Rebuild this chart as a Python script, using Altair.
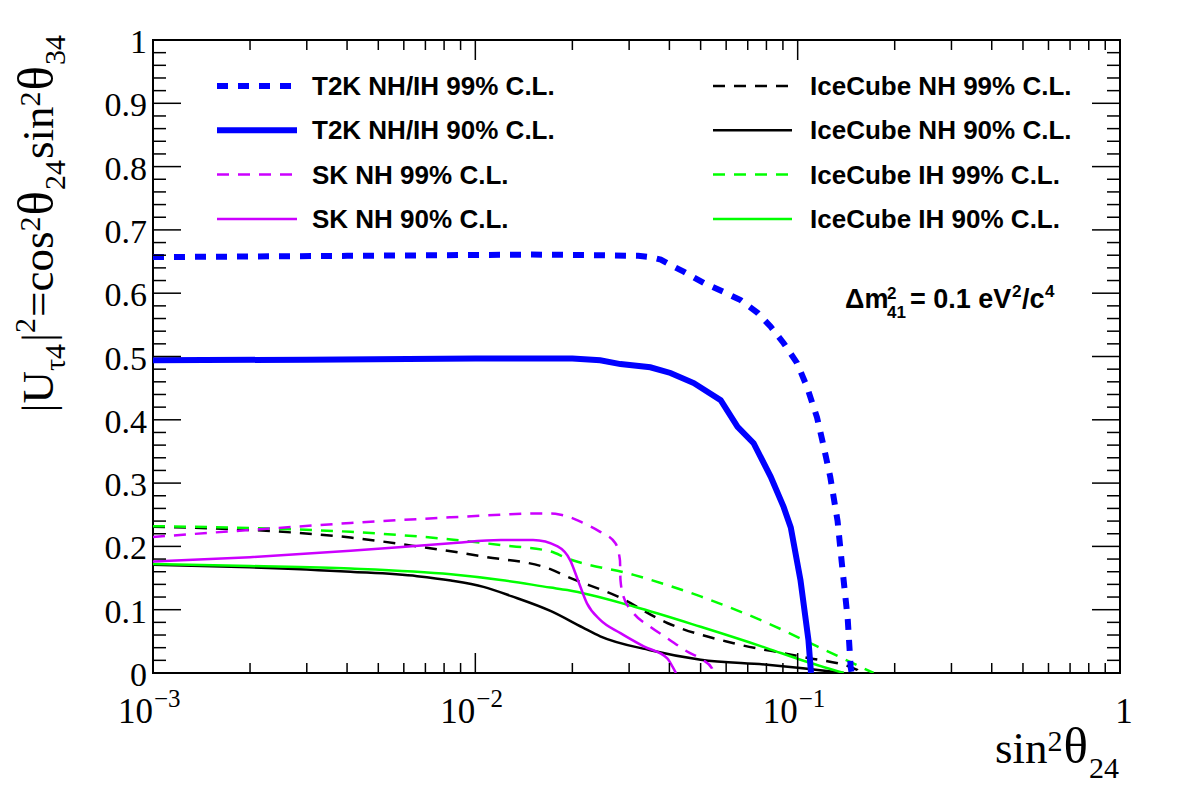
import altair as alt
import pandas as pd

# ---------------- data ----------------
t2k99_x = [0.001, 0.002, 0.004, 0.008, 0.015, 0.025, 0.032, 0.0349, 0.0376, 0.0395, 0.0443, 0.0512,
           0.0589, 0.0665, 0.0751, 0.0825, 0.0905, 0.0995, 0.1069, 0.1148, 0.1198, 0.1262, 0.1330,
           0.1370, 0.1430, 0.1460, 0.1470]
t2k99_y = [0.657, 0.658, 0.659, 0.660, 0.661, 0.660, 0.659, 0.657, 0.653, 0.647, 0.634, 0.616,
           0.602, 0.589, 0.569, 0.547, 0.521, 0.490, 0.452, 0.404, 0.363, 0.310, 0.240,
           0.175, 0.085, 0.010, 0.0]

t2k90_x = [0.001, 0.003, 0.01, 0.02, 0.0244, 0.0282, 0.0349, 0.0403, 0.0476, 0.0577, 0.0651, 0.0730,
           0.0825, 0.0905, 0.0952, 0.102, 0.108, 0.110]
t2k90_y = [0.494, 0.495, 0.497, 0.497, 0.494, 0.488, 0.483, 0.474, 0.458, 0.431, 0.389, 0.363,
           0.310, 0.262, 0.230, 0.147, 0.052, 0.0]

sk99_x = [0.001, 0.002, 0.0041, 0.0084, 0.0120, 0.0151, 0.0171, 0.0184, 0.0197, 0.0212, 0.0244,
          0.0272, 0.0281, 0.0282, 0.0288, 0.0307, 0.0349, 0.0394, 0.0454, 0.0506, 0.0543, 0.0545]
sk99_y = [0.215, 0.226, 0.237, 0.246, 0.250, 0.252, 0.252, 0.250, 0.246, 0.239, 0.223,
          0.205, 0.178, 0.147, 0.121, 0.097, 0.073, 0.055, 0.034, 0.021, 0.007, 0.0]

sk90_x = [0.001, 0.002, 0.0041, 0.0084, 0.012, 0.0151, 0.0180, 0.0197, 0.0208, 0.0222, 0.0244,
          0.0282, 0.0333, 0.0394, 0.0409, 0.0419]
sk90_y = [0.176, 0.183, 0.193, 0.205, 0.210, 0.210, 0.200, 0.178, 0.147, 0.110, 0.084,
          0.063, 0.042, 0.023, 0.010, 0.0]

icnh99_x = [0.001, 0.002, 0.0041, 0.0066, 0.0106, 0.0171, 0.0193, 0.0276, 0.0394, 0.0633, 0.102, 0.153, 0.155]
icnh99_y = [0.231, 0.226, 0.214, 0.200, 0.184, 0.164, 0.152, 0.121, 0.079, 0.047, 0.026, 0.005, 0.0]

icnh90_x = [0.001, 0.002, 0.0041, 0.0066, 0.0084, 0.0106, 0.013, 0.0171, 0.0215, 0.0244, 0.0349, 0.05,
            0.0805, 0.129, 0.139]
icnh90_y = [0.171, 0.167, 0.160, 0.153, 0.146, 0.136, 0.121, 0.098, 0.072, 0.058, 0.036, 0.021,
            0.013, 0.002, 0.0]

icih99_x = [0.001, 0.002, 0.0041, 0.0084, 0.012, 0.0171, 0.0193, 0.031, 0.05, 0.0805, 0.115, 0.172]
icih99_y = [0.232, 0.229, 0.223, 0.211, 0.202, 0.192, 0.181, 0.155, 0.121, 0.079, 0.042, 0.0]

icih90_x = [0.001, 0.002, 0.0041, 0.0084, 0.012, 0.0171, 0.0193, 0.031, 0.05, 0.0805, 0.102, 0.139]
icih90_y = [0.172, 0.169, 0.165, 0.156, 0.147, 0.135, 0.131, 0.105, 0.073, 0.039, 0.021, 0.0]

labels = ["T2K NH/IH 99% C.L.", "T2K NH/IH 90% C.L.", "SK NH 99% C.L.", "SK NH 90% C.L.",
          "IceCube NH 99% C.L.", "IceCube NH 90% C.L.", "IceCube IH 99% C.L.", "IceCube IH 90% C.L."]

y_tick_labels = ["0", "0.1", "0.2", "0.3", "0.4", "0.5", "0.6", "0.7", "0.8", "0.9", "1"]
y_tick_values = [0.0, 0.1, 0.2, 0.3, 0.4, 0.5, 0.6, 0.7, 0.8, 0.9, 1.0]
x_dec_values = [0.001, 0.01, 0.1]
x_dec_exps = ["\u22123", "\u22122", "\u22121"]

# ---------------- layout / style ----------------
W, H = 967, 633
XS = alt.Scale(type="log", domain=[1e-3, 1])
YS = alt.Scale(domain=[0, 1])
SERIF = "Liberation Serif"
SANS = "Liberation Sans"
BLUE, MAG, GREEN, BLACK = "#0000ff", "#cc00ff", "#00ff00", "#000000"

series = [
    # label, xs, ys, color, width, dash, column, row, interpolation
    (labels[4], icnh99_x, icnh99_y, BLACK, 2.5, [12, 9], 1, 0, "monotone"),
    (labels[5], icnh90_x, icnh90_y, BLACK, 2.5, None, 1, 1, "monotone"),
    (labels[6], icih99_x, icih99_y, GREEN, 2.5, [12, 9], 1, 2, "monotone"),
    (labels[7], icih90_x, icih90_y, GREEN, 2.5, None, 1, 3, "monotone"),
    (labels[2], sk99_x, sk99_y, MAG, 2.5, [12, 9], 0, 2, "monotone"),
    (labels[3], sk90_x, sk90_y, MAG, 2.5, None, 0, 3, "monotone"),
    (labels[0], t2k99_x, t2k99_y, BLUE, 6, [11, 10], 0, 0, "linear"),
    (labels[1], t2k90_x, t2k90_y, BLUE, 6, None, 0, 1, "linear"),
]

layers = []

for lab, xs, ys, col, sw, dash, c, r, interp in series:
    df = pd.DataFrame({"x": xs, "y": ys, "i": list(range(len(xs)))})
    kw = dict(color=col, strokeWidth=sw, clip=True, interpolate=interp)
    if dash:
        kw["strokeDash"] = dash
    layers.append(
        alt.Chart(df).mark_line(**kw).encode(
            x=alt.X("x:Q", scale=XS, axis=None),
            y=alt.Y("y:Q", scale=YS, axis=None),
            order=alt.Order("i:Q"),
        )
    )

# ---------------- ticks (inside, on all four sides) ----------------
ymin = [i / 50 for i in range(1, 50) if i % 5]
xmaj = [1e-3, 1e-2, 1e-1, 1.0]
xmin = [m * 10.0 ** e for e in (-3, -2, -1) for m in range(2, 10)]

def xticks(vals, L):
    df = pd.DataFrame({"v": vals})
    base = alt.Chart(df).mark_rule(color="black", strokeWidth=1.5)
    enc = dict(x=alt.X("v:Q", scale=XS, axis=None))
    return [base.encode(y=alt.value(H), y2=alt.value(H - L), **enc),
            base.encode(y=alt.value(0), y2=alt.value(L), **enc)]

def yticks(vals, L):
    df = pd.DataFrame({"v": vals})
    base = alt.Chart(df).mark_rule(color="black", strokeWidth=1.5)
    enc = dict(y=alt.Y("v:Q", scale=YS, axis=None))
    return [base.encode(x=alt.value(0), x2=alt.value(L), **enc),
            base.encode(x=alt.value(W), x2=alt.value(W - L), **enc)]

layers += xticks(xmaj, 20) + xticks(xmin, 10) + yticks(y_tick_values, 28) + yticks(ymin, 13)

# ---------------- tick labels ----------------
ylab_df = pd.DataFrame({"v": y_tick_values, "t": y_tick_labels})
layers.append(
    alt.Chart(ylab_df).mark_text(font=SERIF, fontSize=34, align="right", baseline="alphabetic",
                                 dy=13, color="black").encode(
        x=alt.value(-6), y=alt.Y("v:Q", scale=YS, axis=None), text="t:N")
)
xlab_df = pd.DataFrame({"v": x_dec_values, "e": x_dec_exps, "b": ["10"] * 3})
layers.append(
    alt.Chart(xlab_df).mark_text(font=SERIF, fontSize=35, align="right", baseline="alphabetic",
                                 color="black").encode(
        x=alt.X("v:Q", scale=XS, axis=None), y=alt.value(H + 50), text="b:N")
)
layers.append(
    alt.Chart(xlab_df).mark_text(font=SERIF, fontSize=25, align="left", baseline="alphabetic",
                                 dx=1, color="black").encode(
        x=alt.X("v:Q", scale=XS, axis=None), y=alt.value(H + 34), text="e:N")
)
layers.append(
    alt.Chart(pd.DataFrame({"v": [1.0], "t": ["1"]})).mark_text(
        font=SERIF, fontSize=35, align="center", baseline="alphabetic", dx=4, color="black").encode(
        x=alt.X("v:Q", scale=XS, axis=None), y=alt.value(H + 50), text="t:N")
)

# ---------------- text helper ----------------
def txt(s, x, y, size, font=SERIF, bold=False, angle=0, dx=0, dy=0, align="left"):
    kw = dict(font=font, fontSize=size, align=align, baseline="alphabetic", color="black")
    if bold:
        kw["fontWeight"] = "bold"
    if angle:
        kw["angle"] = angle
    if dx:
        kw["dx"] = dx
    if dy:
        kw["dy"] = dy
    return alt.Chart(pd.DataFrame({"t": [s]})).mark_text(**kw).encode(
        text="t:N", x=alt.value(x), y=alt.value(y))

# approximate advance widths (em) of the serif font, used to lay out the rich-text titles
EM = {"|": 0.2, "U": 0.722, "\u03c4": 0.44, "=": 0.564, "c": 0.444, "o": 0.5, "s": 0.389,
      "i": 0.278, "n": 0.5, "\u03b8": 0.5}

def width(s, size):
    return sum(EM.get(ch, 0.5) for ch in s) * size

TF, TS, TT = 45, 30, 51   # main, sub/sup, theta sizes
def rich(pieces):
    out, pos = [], 0.0
    for s, kind, ddy in pieces:
        size = TF if kind == "m" else (TT if kind == "t" else TS)
        out.append((s, pos, ddy, size))
        pos += width(s, size) + (1 if kind == "s" else 0)
    return out, pos

ytitle, ylen = rich([("|U", "m", 0), ("\u03c44", "s", 12), ("|", "m", 0), ("2", "s", -18),
                     ("=cos", "m", 0), ("2", "s", -13), ("\u03b8", "t", 0), ("24", "s", 12),
                     ("sin", "m", 0), ("2", "s", -13), ("\u03b8", "t", 0), ("34", "s", 12)])
y_end = -6                   # title ends just above the top of the frame (plot coords)
y_start = y_end + ylen
for s, off, ddy, fs in ytitle:
    layers.append(txt(s, -100, y_start, fs, angle=270, dx=off, dy=ddy))

xtitle, xlen = rich([("sin", "m", 0), ("2", "s", -12), ("\u03b8", "t", 0), ("24", "s", 15)])
x0 = W - xlen
for s, off, ddy, fs in xtitle:
    layers.append(txt(s, x0 + off, 723, fs, dy=ddy))

# ---------------- legend ----------------
LX = [(64, 144, 159), (560, 639, 657)]
for lab, xs, ys, col, sw, dash, c, r, interp in series:
    ly = 46 + r * 44.3
    lx0, lx1, tx = LX[c]
    kw = dict(color=col, strokeWidth=sw)
    if dash:
        kw["strokeDash"] = dash
    layers.append(
        alt.Chart(pd.DataFrame({"t": [lab]})).mark_rule(**kw).encode(
            x=alt.value(lx0), x2=alt.value(lx1), y=alt.value(ly))
    )
    layers.append(txt(lab, tx, ly + 9, 26, font=SANS, bold=True))

# ---------------- annotation ----------------
layers += [txt("\u0394m", 692, 268, 27, font=SANS, bold=True),
           txt("2", 734, 259, 17, font=SANS, bold=True),
           txt("41", 734, 278, 17, font=SANS, bold=True),
           txt("= 0.1 eV", 757, 268, 27, font=SANS, bold=True),
           txt("2", 859, 257, 17, font=SANS, bold=True),
           txt("/c", 869, 268, 27, font=SANS, bold=True),
           txt("4", 892, 257, 17, font=SANS, bold=True)]

chart = alt.layer(*layers).properties(
    width=W, height=H,
    autosize=alt.AutoSizeParams(type="none"),
    padding={"left": 153, "top": 40, "right": 62, "bottom": 130},
    background="white",
).configure_view(stroke="black", strokeWidth=2)

chart.save("out.html", embed_options={"renderer": "svg", "actions": False})
